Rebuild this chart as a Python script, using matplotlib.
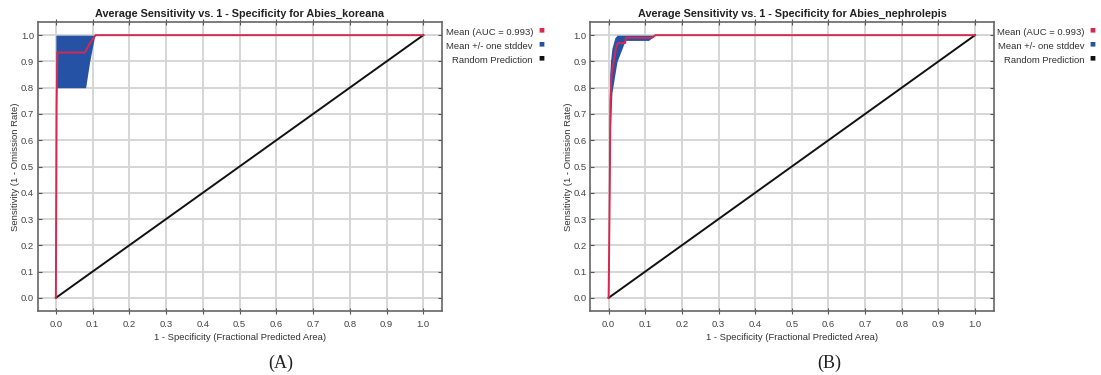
import matplotlib
matplotlib.use("Agg")
import matplotlib.pyplot as plt

plt.rcParams['font.family'] = ['Liberation Sans', 'DejaVu Sans']

# ---- data ----
ticks = [0.0, 0.1, 0.2, 0.3, 0.4, 0.5, 0.6, 0.7, 0.8, 0.9, 1.0]
tick_labels = ["0.0", "0.1", "0.2", "0.3", "0.4", "0.5", "0.6", "0.7", "0.8", "0.9", "1.0"]

titles = ["Average Sensitivity vs. 1 - Specificity for Abies_koreana",
          "Average Sensitivity vs. 1 - Specificity for Abies_nephrolepis"]
panel_labels = ["(A)", "(B)"]
legend_labels = ["Mean (AUC = 0.993)", "Mean +/- one stddev", "Random Prediction"]

# Panel A
a_mean_x = [0.0, 0.002, 0.004, 0.079, 0.093, 0.108, 1.0]
a_mean_y = [0.0, 0.73, 0.934, 0.934, 0.97, 1.0, 1.0]
a_band_x = [0.0, 0.002, 0.081, 0.092, 0.106]
a_band_lo = [0.73, 0.80, 0.80, 0.90, 1.0]
a_band_hi = [1.0, 1.0, 1.0, 1.0, 1.0]

# Panel B
b_mean_x = [0.0, 0.003, 0.005, 0.008, 0.014, 0.02, 0.025, 0.045, 0.047, 0.118, 0.128, 1.0]
b_mean_y = [0.0, 0.40, 0.75, 0.85, 0.90, 0.95, 0.97, 0.97, 0.99, 0.99, 1.0, 1.0]
b_band_x = [0.0, 0.002, 0.003, 0.005, 0.009, 0.017, 0.023, 0.037, 0.045, 0.109, 0.128]
b_band_hi = [0.35, 0.70, 0.85, 0.90, 0.95, 0.99, 1.0, 1.0, 1.0, 1.0, 1.0]
b_band_lo = [0.0, 0.30, 0.50, 0.65, 0.78, 0.85, 0.90, 0.95, 0.98, 0.98, 1.0]

diag = [0.0, 1.0]

panels = [
    (a_mean_x, a_mean_y, a_band_x, a_band_lo, a_band_hi),
    (b_mean_x, b_mean_y, b_band_x, b_band_lo, b_band_hi),
]

RED = "#d8284f"
BLUE = "#2652a6"
W, H = 1101.0, 375.0

fig = plt.figure(figsize=(11.01, 3.75), dpi=100)
fig.patch.set_facecolor("white")

# frames in pixels: left, top, right, bottom
frames = [(37.5, 22.3, 442.0, 310.7), (590.3, 22.3, 993.7, 310.7)]
label_x = [280.6, 829.0]

for i, (fr, (mx, my, bx, blo, bhi)) in enumerate(zip(frames, panels)):
    l, t, r, b = fr
    rect = [l / W, 1 - b / H, (r - l) / W, (b - t) / H]
    ax = fig.add_axes(rect)
    ax.set_xlim(-0.05, 1.051)
    ax.set_ylim(-0.049, 1.049)
    ax.set_xticks(ticks)
    ax.set_xticklabels(tick_labels)
    ax.set_yticks(ticks)
    ax.set_yticklabels(tick_labels)
    ax.grid(True, color="#d6d6d6", linewidth=1.4, zorder=0)
    ax.set_axisbelow(True)
    ax.tick_params(axis="x", which="both", direction="inout", length=5,
                   color="#555555", labelsize=6.8, labelcolor="#444444",
                   top=True, pad=4)
    ax.tick_params(axis="y", which="both", direction="in", length=3,
                   color="#555555", labelsize=6.8, labelcolor="#444444",
                   right=True, pad=2.5)
    for sp in ax.spines.values():
        sp.set_color("#666666")
        sp.set_linewidth(1.2)

    ax.fill_between(bx, blo, bhi, color=BLUE, linewidth=0, zorder=2)
    ax.plot(diag, diag, color="#111111", linewidth=1.4, zorder=3)
    ax.plot(mx, my, color=RED, linewidth=1.4, zorder=4)

    ax.set_title(titles[i], fontsize=7.8, fontweight="bold", pad=4, color="#222222")
    ax.set_xlabel("1 - Specificity (Fractional Predicted Area)", fontsize=6.8,
                  color="#333333", labelpad=3)
    ax.set_ylabel("Sensitivity (1 - Omission Rate)", fontsize=6.8,
                  color="#333333", labelpad=0.5)

    # legend-like text on the right
    for j, (lab, col) in enumerate(zip(legend_labels, [RED, BLUE, "#111111"])):
        yy = 1 - (32.3 + 14 * j) / H
        fig.text((r + 91) / W, yy, lab, fontsize=6.8, color="#333333",
                 ha="right", va="center")
        fig.text((r + 96) / W, yy + 2 / H, "\u25A0", fontsize=4.5, color=col,
                 ha="left", va="center", family="DejaVu Sans")

    fig.text(label_x[i] / W, 1 - 363 / H, panel_labels[i], fontsize=13,
             family="Liberation Serif", ha="center", va="center", color="#222222")

fig.savefig("out.png", dpi=100)
